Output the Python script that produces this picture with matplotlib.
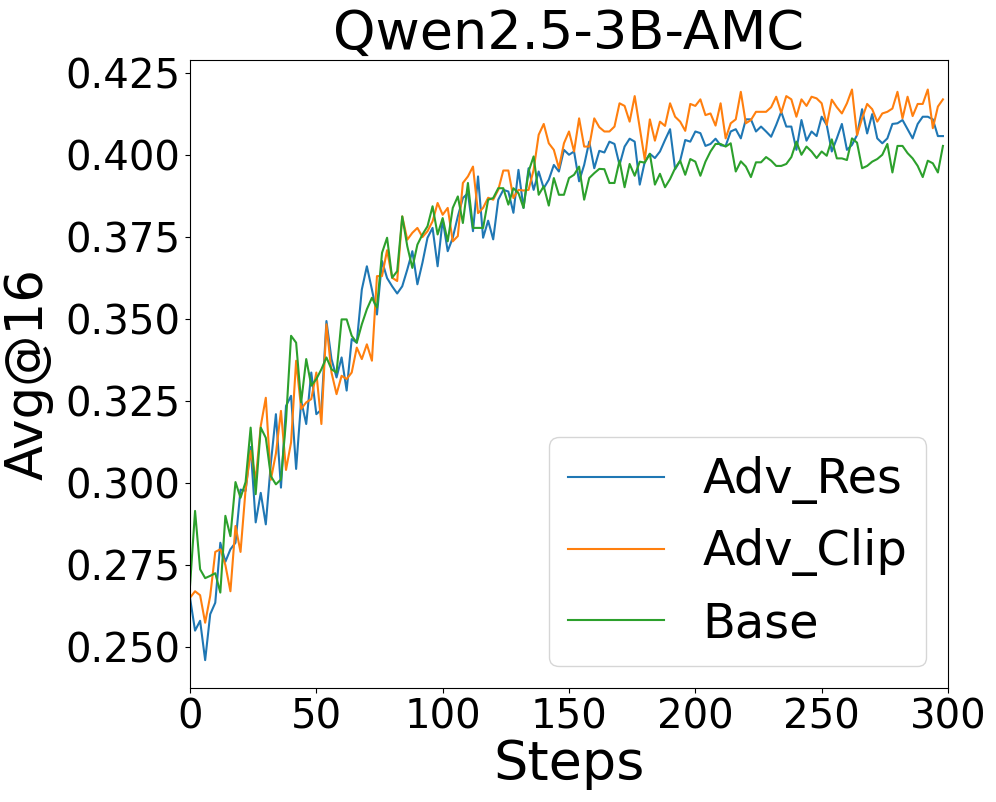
import matplotlib
matplotlib.use("Agg")
import matplotlib.pyplot as plt
import numpy as np

steps = list(range(0, 300, 2))

adv_res = [
    .265, .255, .258, .246, .260, .2635, .2818, .276, .2798, .2818, .298, .2976, .311, .288, .297, .2874, .306, .321, .2986, .3235,
    .3266, .3043, .3251, .318, .3337, .321, .3224, .3494, .3378, .3322, .3383, .3282, .3439, .3428, .359, .3661, .359, .3514, .3677, .3625,
    .360, .3578, .360, .3651, .3707, .3606, .3672, .3748, .3778, .3661, .3803, .3707, .3748, .3813, .3869, .3884, .3768, .3935, .3748, .3800,
    .3743, .3864, .3894, .3889, .3824, .3955, .3839, .396, .3894, .395, .3899, .3925, .397, .395, .4016, .4001, .4011, .392, .397, .4041, .396, .4013,
    .4008, .4041, .4034, .397, .4026, .405, .4041, .391, .398, .4004, .3991, .4011, .4046, .4079, .3957, .3983, .4046, .4041, .4072, .4067, .4028, .4034, .4050,
    .403, .4028, .4072, .4079, .4051, .4109, .4109, .4072, .4087, .4072, .4056, .4092, .4132, .4087, .4087, .4016, .4107, .4044, .4072, .4058, .4117, .4092, .4011,
    .4051, .4095, .4016, .4031, .4061, .414, .4066, .4125, .4051, .4036, .4051, .4095, .4097, .4107, .4079, .4051, .4095, .4117, .4117, .4109, .4058, .4058,
]

adv_clip = [
    .265, .267, .2658, .2574, .2656, .279, .2798, .275, .267, .2869, .279, .298, .3098, .301, .3174, .326, .301, .309, .322, .304,
    .3124, .3373, .3226, .3246, .3256, .3337, .318, .3484, .3337, .3271, .3327, .3317, .3337, .3413, .3378, .3423, .3373, .3631, .3631, .371,
    .3626, .3616, .3813, .3742, .3763, .3778, .375, .3768, .3798, .3854, .3818, .3839, .3737, .3753, .3915, .3935, .3965, .3823, .3839, .3870,
    .3864, .3894, .3953, .3953, .3869, .3894, .3892, .3894, .3955, .4062, .4095, .4036, .4016, .396, .4036, .4072, .4011, .4112, .4026, .4026, .4112, .4085,
    .4072, .4072, .4087, .4158, .415, .4102, .418, .4082, .3986, .4109, .4044, .4102, .4089, .4158, .4117, .4102, .4074, .4156, .415, .417, .4122, .4127, .4090,
    .4158, .4051, .4097, .4109, .4193, .4097, .4107, .4132, .4132, .4132, .4146, .4178, .4129, .418, .417, .4117, .417, .415, .4178, .4173, .4158, .4092, .4169,
    .4146, .4127, .4158, .42, .4061, .4112, .4156, .414, .4102, .4127, .4132, .4142, .4193, .4112, .4178, .4119, .4156, .4156, .42, .4082, .4148, .417,
]

base = [
    .2686, .2915, .2737, .271, .2717, .2725, .2666, .290, .2838, .3003, .2955, .3003, .3169, .2966, .3169, .3138, .3021, .2996, .3011, .319,
    .3449, .3428, .3246, .3378, .3297, .3317, .3347, .3383, .3347, .3337, .3499, .3499, .3449, .3428, .3484, .353, .3565, .3535, .3702, .3748,
    .3626, .3646, .3813, .3722, .3656, .3727, .3758, .3783, .3844, .3758, .3808, .3737, .3839, .3874, .3793, .3915, .3778, .3778, .3778, .3864,
    .3869, .3899, .3899, .3849, .3899, .3884, .3839, .395, .3996, .3879, .3905, .3846, .393, .3879, .3879, .393, .394, .3965, .3864, .393, .3945, .3958,
    .3957, .3915, .3915, .3983, .3902, .3973, .3937, .398, .3977, .4004, .391, .3943, .3902, .3927, .396, .3983, .394, .3988, .398, .3937, .398, .4011, .4034,
    .4034, .4026, .4036, .395, .3981, .3965, .3933, .3978, .3978, .3994, .3983, .3967, .3967, .3973, .3994, .4041, .4001, .4026, .4011, .3991, .4011, .3998, .4048,
    .399, .399, .3985, .4051, .4038, .396, .3967, .398, .3988, .4001, .4034, .3947, .4028, .4028, .4006, .399, .3967, .3933, .3983, .3975, .3947, .4028,
]

yticks = [0.250, 0.275, 0.300, 0.325, 0.350, 0.375, 0.400, 0.425]
xticks = [0, 50, 100, 150, 200, 250, 300]

fig = plt.figure(figsize=(9.96, 8.02), dpi=100)
ax = fig.add_axes([190/996, 1-688/802, (948-190)/996, (688-60)/802])

ax.plot(steps, adv_res, color="#1f77b4", lw=1.5, label="Adv_Res")
ax.plot(steps, adv_clip, color="#ff7f0e", lw=1.5, label="Adv_Clip")
ax.plot(steps, base, color="#2ca02c", lw=1.5, label="Base")

ax.set_xlim(0, 300)
ax.set_ylim(0.2375, 0.4290)
ax.set_xticks(xticks)
ax.set_yticks(yticks)
ax.set_yticklabels([f"{v:.3f}" for v in yticks])
ax.tick_params(labelsize=29)
ax.set_xlabel("Steps", fontsize=39, labelpad=0)
ax.set_ylabel("Avg@16", fontsize=37, labelpad=8)
ax.set_title("Qwen2.5-3B-AMC", fontsize=39, pad=6)
ax.legend(loc="lower right", fontsize=34.5, borderaxespad=0.45)

fig.savefig("out.png", dpi=100)
